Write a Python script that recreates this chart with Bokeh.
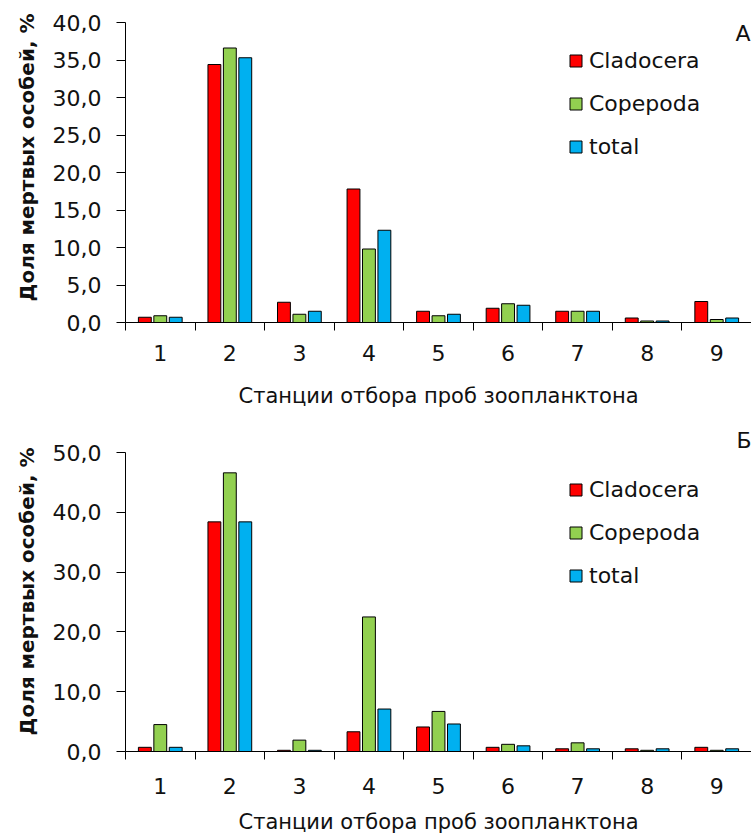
import math
from bokeh.plotting import figure
from bokeh.models import (Range1d, FixedTicker, Legend, LegendItem, Label, Title, ColumnDataSource)
from bokeh.layouts import column
from bokeh.embed import file_html
from bokeh.resources import INLINE

stations = [1, 2, 3, 4, 5, 6, 7, 8, 9]
series_names = ["Cladocera", "Copepoda", "total"]
colors = ["#FF0000", "#92D050", "#00B0F0"]

# Panel A
a_cladocera = [0.7, 34.4, 2.7, 17.8, 1.5, 1.9, 1.5, 0.6, 2.8]
a_copepoda = [0.9, 36.6, 1.1, 9.8, 0.9, 2.5, 1.5, 0.2, 0.4]
a_total = [0.7, 35.3, 1.5, 12.3, 1.1, 2.3, 1.5, 0.2, 0.6]
a_yticks = [0, 5, 10, 15, 20, 25, 30, 35, 40]
a_ylabels = ["0,0", "5,0", "10,0", "15,0", "20,0", "25,0", "30,0", "35,0", "40,0"]

# Panel B
b_cladocera = [0.7, 38.4, 0.2, 3.3, 4.1, 0.7, 0.45, 0.45, 0.7]
b_copepoda = [4.5, 46.6, 1.9, 22.5, 6.7, 1.2, 1.45, 0.2, 0.2]
b_total = [0.7, 38.4, 0.2, 7.1, 4.6, 0.95, 0.45, 0.45, 0.45]
b_yticks = [0, 10, 20, 30, 40, 50]
b_ylabels = ["0,0", "10,0", "20,0", "30,0", "40,0", "50,0"]

x_title = "Станции отбора проб зоопланктона"
y_title = "Доля мертвых особей, %"

FONT = "DejaVu Sans"
TXT = "#111111"


def make_panel(series, yticks, ylabels, ymax, letter, height, top, bottom,
               lab_standoff, title_standoff, letter_inside, ytitle_offset):
    p = figure(width=751, height=height, output_backend="svg", toolbar_location=None,
               x_range=Range1d(0.5, 9.5), y_range=Range1d(0, ymax),
               min_border_left=125, min_border_right=0,
               min_border_top=top, min_border_bottom=bottom)
    p.outline_line_color = None
    p.xgrid.visible = False
    p.ygrid.visible = False
    p.background_fill_color = "white"
    p.border_fill_color = "white"

    offsets = [-0.222, 0.0, 0.222]
    renderers = []
    for vals, col, off in zip(series, colors, offsets):
        src = ColumnDataSource(dict(x=[s + off for s in stations], top=vals))
        r = p.vbar(x="x", top="top", width=0.185, bottom=0, source=src,
                   fill_color=col, line_color="#000000", line_width=1)
        renderers.append(r)

    # x axis: labels at centers, ticks between categories
    xa = p.xaxis[0]
    xa.ticker = FixedTicker(ticks=stations, minor_ticks=[s - 0.5 for s in stations] + [9.5])
    xa.major_tick_out = 0
    xa.major_tick_in = 0
    xa.minor_tick_out = 8
    xa.minor_tick_in = 0
    xa.minor_tick_line_color = "#000000"
    xa.axis_line_color = "#000000"
    xa.major_label_text_font = FONT
    xa.major_label_text_font_size = "22px"
    xa.major_label_text_color = TXT
    xa.major_label_standoff = lab_standoff
    xa.axis_label = x_title
    xa.axis_label_text_font = FONT
    xa.axis_label_text_font_size = "21px"
    xa.axis_label_text_font_style = "normal"
    xa.axis_label_text_color = TXT
    xa.axis_label_standoff = title_standoff

    ya = p.yaxis[0]
    ya.ticker = FixedTicker(ticks=yticks, minor_ticks=[])
    ya.major_label_overrides = {t: l for t, l in zip(yticks, ylabels)}
    ya.major_tick_out = 9
    ya.major_tick_in = 0
    ya.major_tick_line_color = "#000000"
    ya.axis_line_color = "#000000"
    ya.major_label_text_font = FONT
    ya.major_label_text_font_size = "22px"
    ya.major_label_text_color = TXT
    ya.major_label_standoff = 15

    ytitle = Title(text=y_title, align="right", offset=ytitle_offset, standoff=22,
                   text_font=FONT, text_font_size="20px", text_font_style="bold",
                   text_color=TXT)
    p.add_layout(ytitle, "left")

    if letter_inside:
        let = Label(x=625, y=302, x_units="screen", y_units="screen", text=letter,
                    text_align="right", text_baseline="top", text_font=FONT,
                    text_font_size="22px", text_color=TXT)
        p.add_layout(let)
    else:
        t = Title(text=letter, align="right", standoff=0, offset=0,
                  text_font=FONT, text_font_size="22px", text_font_style="normal",
                  text_color=TXT)
        p.add_layout(t, "above")

    items = [LegendItem(label=n, renderers=[r]) for n, r in zip(series_names, renderers)]
    leg = Legend(items=items, location=(443, 163), orientation="vertical",
                 glyph_width=15, glyph_height=15, label_height=25, spacing=18,
                 padding=0, margin=0, label_standoff=6,
                 label_text_font=FONT, label_text_font_size="22px",
                 label_text_color=TXT,
                 border_line_alpha=0, background_fill_alpha=0)
    p.add_layout(leg, "center")
    return p


pa = make_panel([a_cladocera, a_copepoda, a_total], a_yticks, a_ylabels, 40, "А",
                420, 22, 98, 14, 20, True, -9)
pb = make_panel([b_cladocera, b_copepoda, b_total], b_yticks, b_ylabels, 50, "Б",
                416, 32, 84, 18, 13, False, -5)

layout = column(pa, pb, spacing=0)
open("out.html", "w").write(file_html(layout, INLINE))
